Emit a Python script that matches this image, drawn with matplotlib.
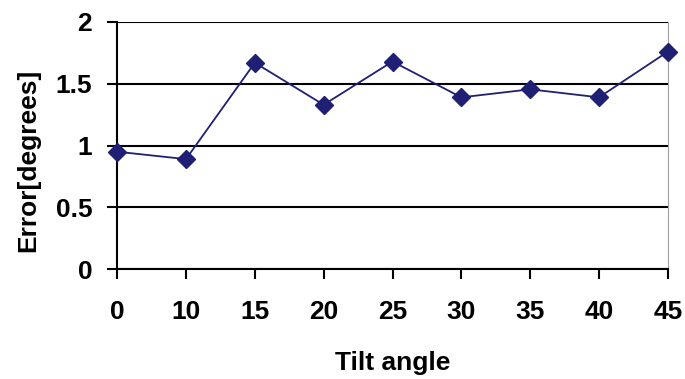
import matplotlib.pyplot as plt
import numpy as np

plt.rcParams['font.family'] = ['Liberation Sans', 'DejaVu Sans']

tilt = ['0', '10', '15', '20', '25', '30', '35', '40', '45']
error = [0.95, 0.89, 1.67, 1.33, 1.68, 1.39, 1.455, 1.39, 1.76]

fig = plt.figure(figsize=(6.85, 3.79), dpi=100)
ax = fig.add_axes([0.171, 0.29, 0.804, 0.652])

x = np.arange(len(tilt))
ax.plot(x, error, color='#1f1f73', lw=1.3, marker='D', ms=9.5, mfc='#1f1f73', mec='#1f1f73',
        zorder=3, clip_on=False)

ax.set_xlim(0, len(tilt) - 1)
ax.set_ylim(0, 2)
ax.set_yticks([0, 0.5, 1, 1.5, 2])
ax.set_yticklabels(['0', '0.5', '1', '1.5', '2'])
ax.set_xticks(x)
ax.set_xticklabels(tilt)
ax.yaxis.grid(True, color='black', lw=1.5)
ax.set_axisbelow(True)

ax.spines['top'].set_visible(False)
ax.spines['right'].set_color('#a0a0a0')
ax.spines['left'].set_linewidth(1.5)
ax.spines['bottom'].set_linewidth(1.5)
ax.tick_params(axis='x', length=7, width=1.5, pad=15, labelsize=19)
ax.tick_params(axis='y', length=7, width=1.5, pad=11, labelsize=19)
for lab in ax.get_xticklabels() + ax.get_yticklabels():
    lab.set_fontweight('bold')

ax.set_xlabel('Tilt angle', fontsize=19, fontweight='bold', labelpad=20)
ax.set_ylabel('Error[degrees]', fontsize=19, fontweight='bold')
ax.yaxis.set_label_coords(-0.14, 0.44)

fig.savefig('out.png', dpi=100)
